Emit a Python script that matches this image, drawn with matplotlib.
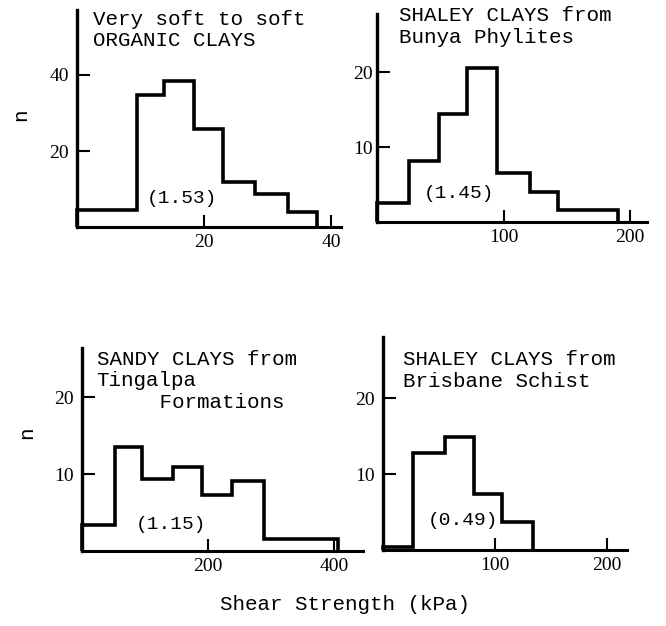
import matplotlib
matplotlib.use("Agg")
import matplotlib.pyplot as plt

# histogram bins (shear strength kPa, counts n)
organic_edges = [0, 9.4, 13.7, 18.4, 22.9, 28, 33.1, 37.7]
organic_n = [4.5, 34.6, 38.5, 25.7, 11.9, 8.7, 3.9]

bunya_edges = [0, 25, 49, 71, 95, 121, 143, 190]
bunya_n = [2.5, 8.2, 14.5, 20.6, 6.6, 4.0, 1.6]

tingalpa_edges = [0, 53, 95, 144, 190, 238, 288, 406]
tingalpa_n = [3.4, 13.6, 9.4, 10.9, 7.3, 9.1, 1.5]

schist_edges = [0, 27, 55, 81, 106, 134]
schist_n = [0.4, 12.8, 14.9, 7.4, 3.7]

titles = ["Very soft to soft\nORGANIC CLAYS",
          "SHALEY CLAYS from\nBunya Phylites",
          "SANDY CLAYS from\nTingalpa\n     Formations",
          "SHALEY CLAYS from\nBrisbane Schist"]
ratios = ["(1.53)", "(1.45)", "(1.15)", "(0.49)"]

mono = "Liberation Mono"
serif = "Liberation Serif"

fig = plt.figure(figsize=(6.66, 6.26), dpi=100)

# [left, bottom, width, height], xlim, ylim, xticks, yticks, title pos, ratio pos, ytick pad
panels = [
    ([0.116, 0.637, 0.396, 0.347], (0, 41.5), (0, 57), [20, 40], [20, 40], (0.058, 1.0), (16.5, 7.6), 6),
    ([0.566, 0.645, 0.406, 0.333], (0, 213.5), (0, 27.8), [100, 200], [10, 20], (0.08, 1.035), (65, 3.8), 3),
    ([0.1227, 0.1198, 0.422, 0.324], (0, 445), (0, 26.4), [200, 400], [10, 20], (0.053, 0.99), (142, 3.4), 6),
    ([0.5755, 0.1214, 0.3655, 0.341], (0, 218), (0, 28.1), [100, 200], [10, 20], (0.08, 0.935), (71, 3.9), 6),
]
data = [(organic_edges, organic_n), (bunya_edges, bunya_n),
        (tingalpa_edges, tingalpa_n), (schist_edges, schist_n)]

for i, (rect, xl, yl, xt, yt, tpos, rpos, pad) in enumerate(panels):
    ax = fig.add_axes(rect)
    edges, n = data[i]
    ax.stairs(n, edges, color="black", linewidth=2.6, baseline=0, clip_on=False)
    ax.set_xlim(*xl)
    ax.set_ylim(*yl)
    ax.set_xticks(xt)
    ax.set_yticks(yt)
    for s in ["top", "right"]:
        ax.spines[s].set_visible(False)
    ax.spines["left"].set_linewidth(2.4)
    ax.spines["bottom"].set_linewidth(2.2)
    ax.tick_params(axis="x", direction="in", length=9, width=1.5, pad=5, labelsize=14)
    ax.tick_params(axis="y", direction="in", length=9, width=1.5, pad=pad, labelsize=14)
    for lab in ax.get_xticklabels() + ax.get_yticklabels():
        lab.set_family(serif)
    ax.text(tpos[0], tpos[1], titles[i], transform=ax.transAxes, ha="left", va="top",
            family=mono, fontsize=15, linespacing=1.15)
    ax.text(rpos[0], rpos[1], ratios[i], ha="center", va="center",
            family=mono, fontsize=14)
    ax.patch.set_alpha(0)

fig.text(21 / 666, 1 - 115 / 626, "n", rotation=90, ha="center", va="center",
         family=mono, fontsize=15)
fig.text(27 / 666, 1 - 433 / 626, "n", rotation=90, ha="center", va="center",
         family=mono, fontsize=15)
fig.text(345 / 666, 1 - 605 / 626, "Shear Strength (kPa)", ha="center", va="center",
         family=mono, fontsize=15)

fig.savefig("out.png", dpi=100)
